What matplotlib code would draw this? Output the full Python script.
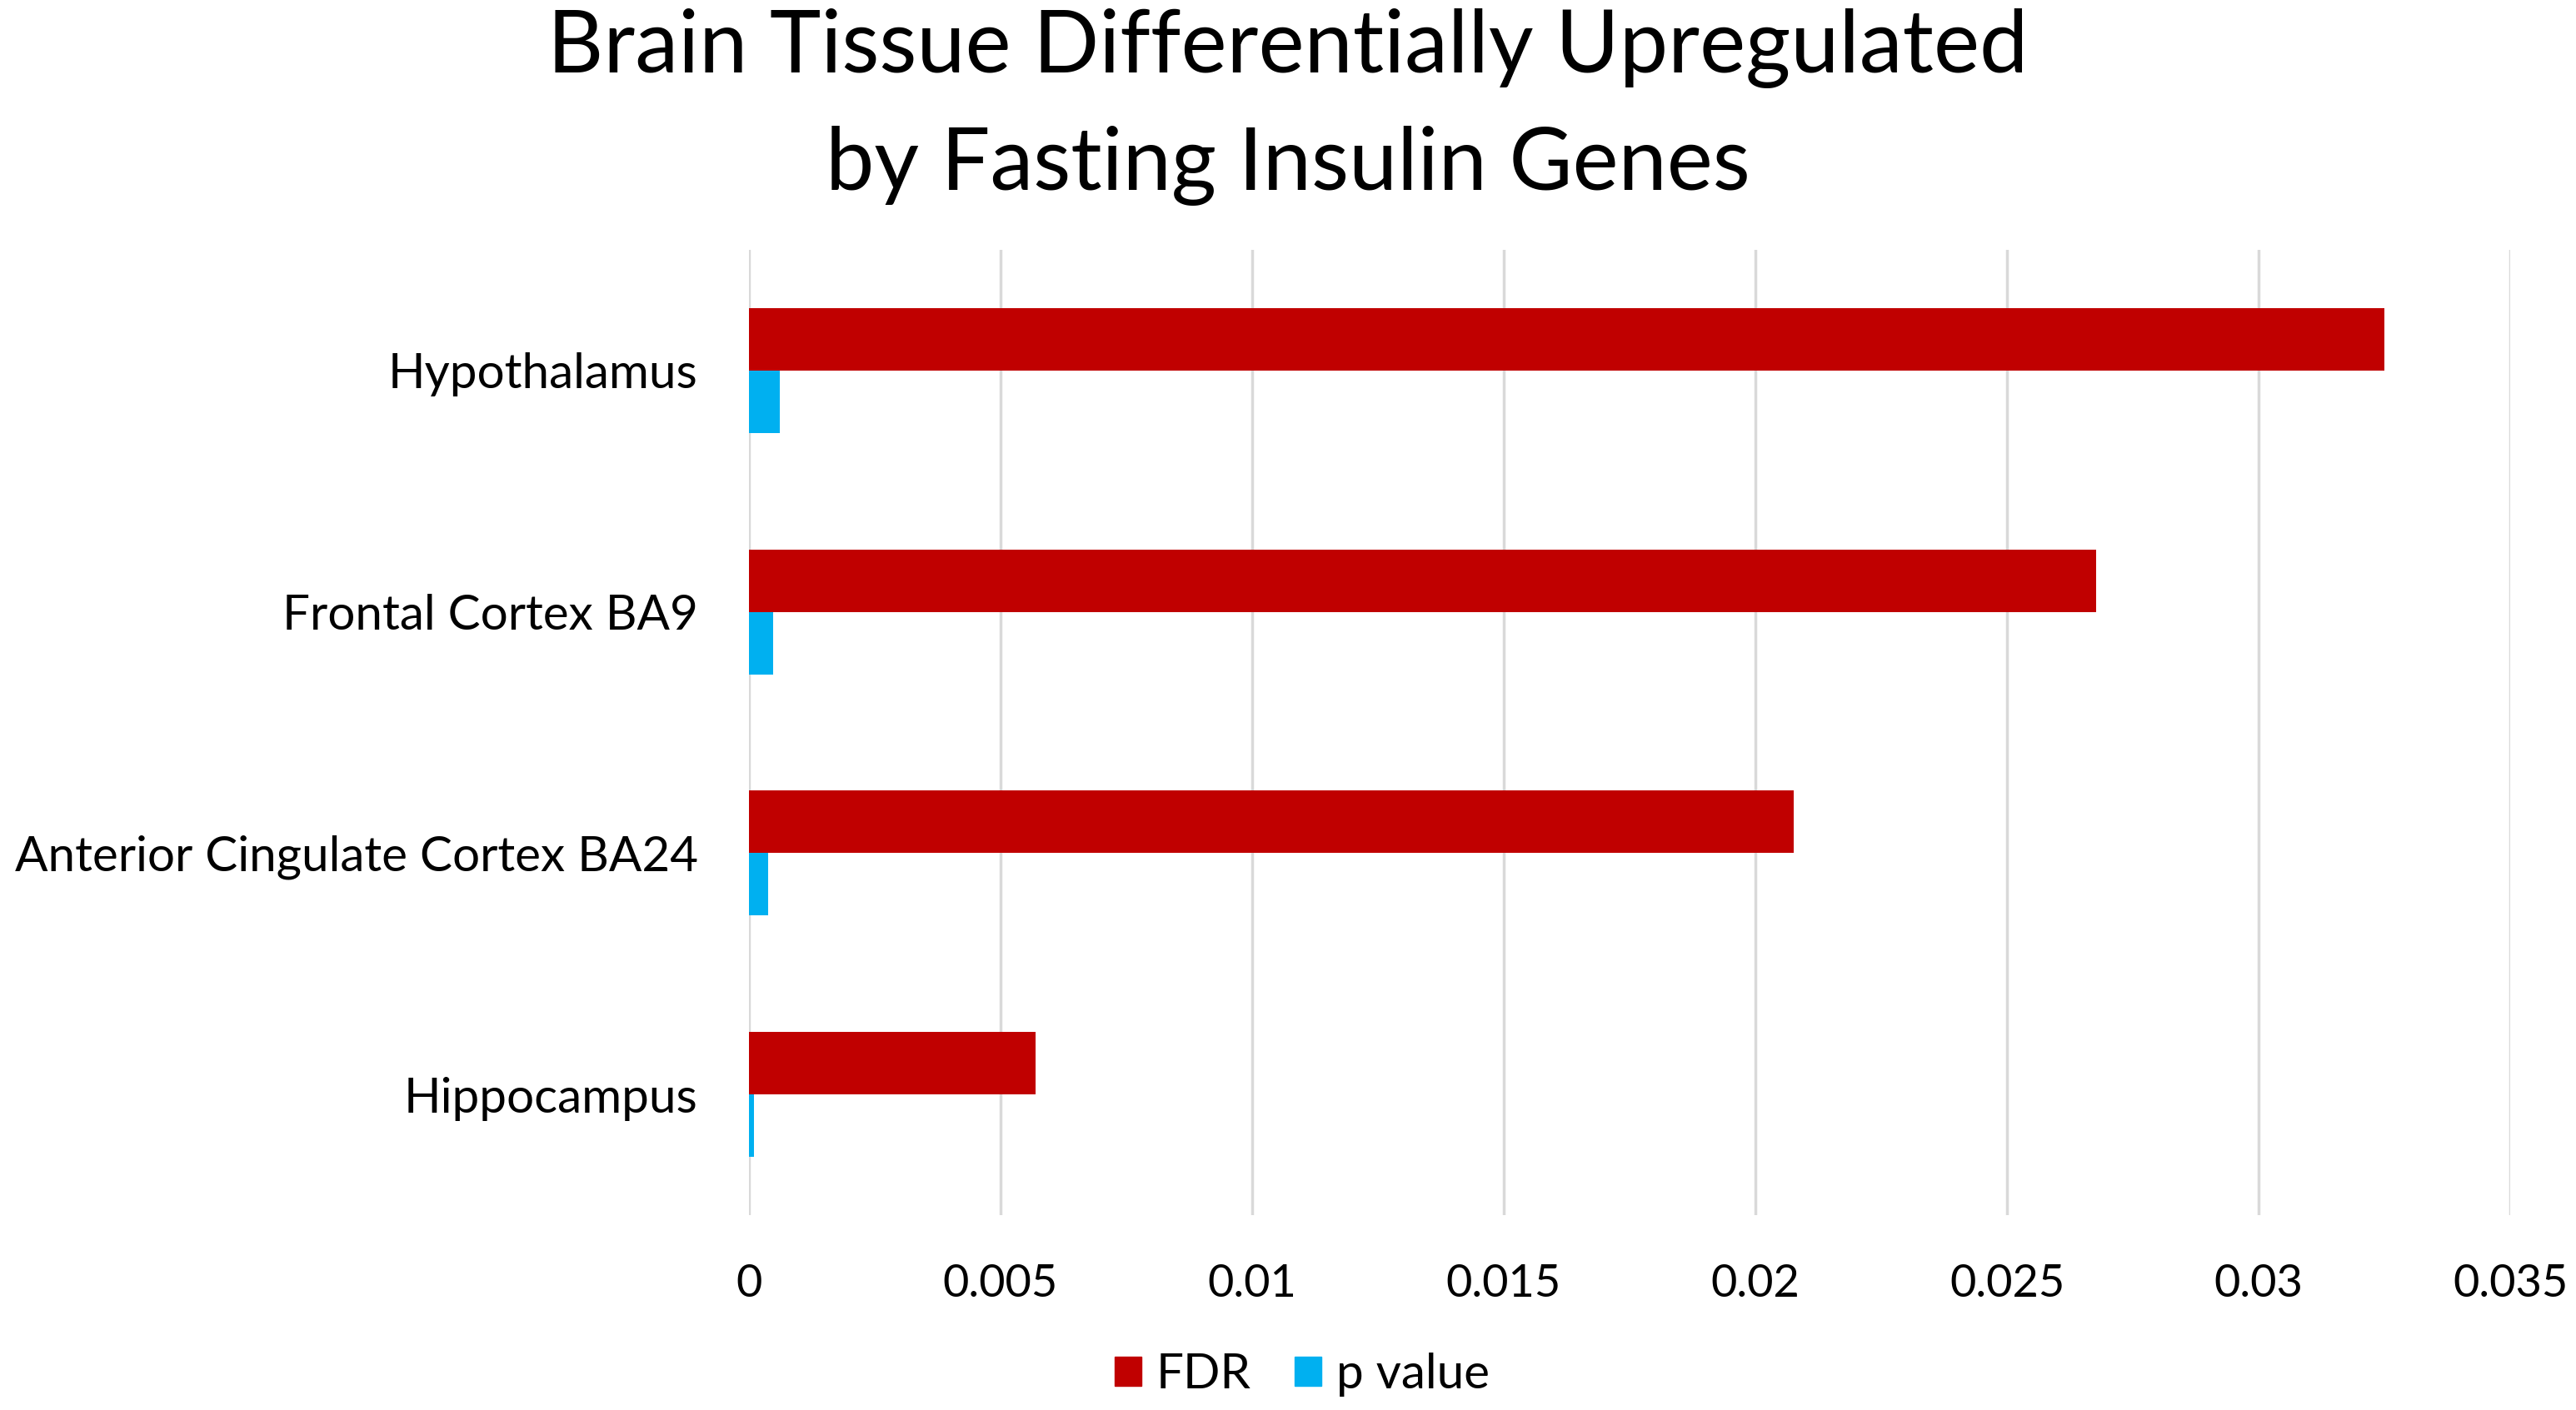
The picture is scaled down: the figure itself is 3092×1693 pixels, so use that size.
import numpy as np
import matplotlib.pyplot as plt
from matplotlib.patches import Patch

# data (top to bottom)
tissues = ["Hypothalamus", "Frontal Cortex BA9", "Anterior Cingulate Cortex BA24", "Hippocampus"]
fdr = [0.0325, 0.02677, 0.02076, 0.0057]
pval = [0.00061, 0.00049, 0.00038, 0.0001]
xticks = [0, 0.005, 0.01, 0.015, 0.02, 0.025, 0.03, 0.035]
xtick_labels = ["0", "0.005", "0.01", "0.015", "0.02", "0.025", "0.03", "0.035"]

red = "#C00000"
blue = "#00B0F0"

plt.rcParams['font.family'] = ['Lato', 'DejaVu Sans']

fig = plt.figure(figsize=(30.92, 16.93), dpi=100)
ax = fig.add_axes([0.2907, 0.1382, 0.9745 - 0.2907, 0.8228 - 0.1382])

y = np.arange(len(tissues))
h = 0.259
ax.barh(y - h / 2, fdr, height=h, color=red, zorder=3)
ax.barh(y + h / 2, pval, height=h, color=blue, zorder=3)

ax.set_xlim(0, 0.035)
ax.set_ylim(3.5, -0.5)
ax.set_xticks(xticks)
ax.set_xticklabels(xtick_labels)
ax.set_yticks(y)
ax.set_yticklabels(tissues)
ax.tick_params(axis='both', length=0)
ax.tick_params(axis='x', labelsize=39, pad=42)
ax.tick_params(axis='y', labelsize=42, pad=44)
ax.grid(axis='x', color='#d9d9d9', linewidth=2.5, zorder=0)
for s in ax.spines.values():
    s.set_visible(False)

fig.text(0.5, 0.9486, "Brain Tissue Differentially Upregulated",
         ha='center', va='baseline', fontsize=75)
fig.text(0.5, 0.8653, "by Fasting Insulin Genes",
         ha='center', va='baseline', fontsize=75)

handles = [Patch(color=red, label="FDR"), Patch(color=blue, label="p value")]
fig.legend(handles=handles, loc='center', bbox_to_anchor=(0.5055, 0.025), ncol=2,
           frameon=False, fontsize=42, handlelength=0.55, handleheight=0.55,
           handletextpad=0.3, columnspacing=0.9)

fig.savefig("out.png", dpi=100, facecolor='white')
